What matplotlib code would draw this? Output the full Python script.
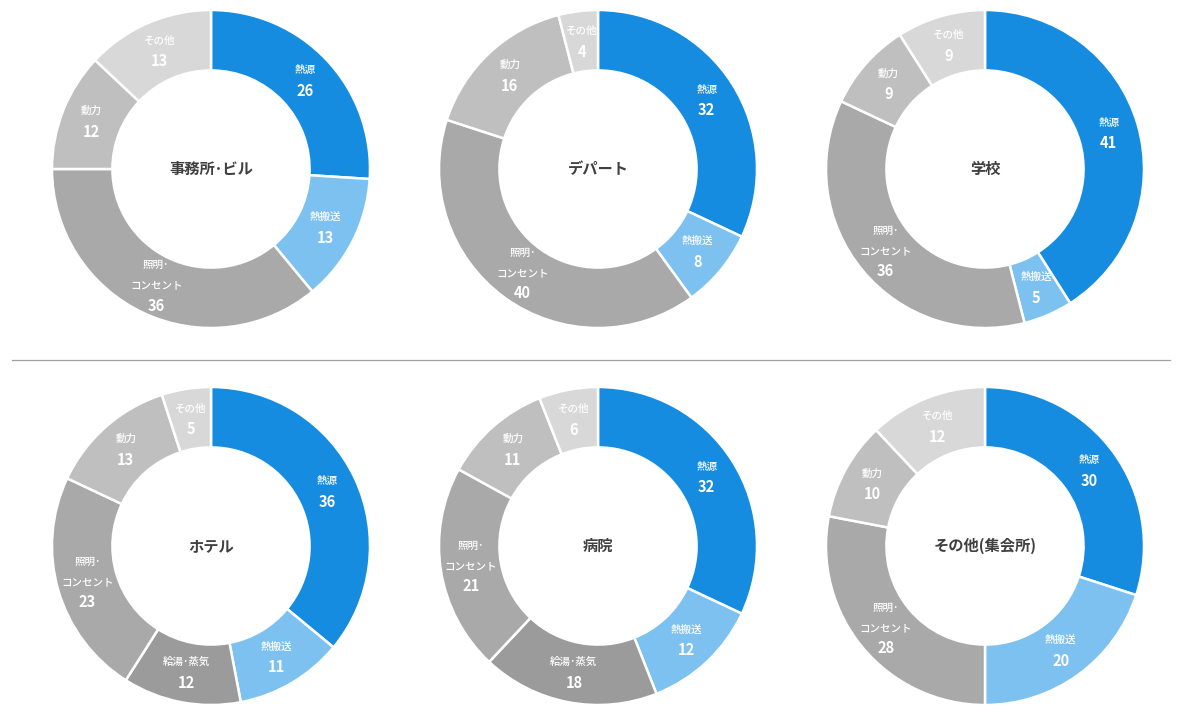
import matplotlib
matplotlib.use("Agg")
import matplotlib.pyplot as plt
import numpy as np

plt.rcParams['font.family'] = ['Noto Sans CJK JP', 'DejaVu Sans']

categories = ["熱源", "熱搬送", "給湯･蒸気", "照明･\nコンセント", "動力", "その他"]
colors = ["#158ce0", "#7dc1f1", "#9b9b9b", "#a9a9a9", "#bfbfbf", "#d8d8d8"]

facilities = ["事務所･ビル", "デパート", "学校", "ホテル", "病院", "その他(集会所)"]
office = [26, 13, 0, 36, 12, 13]
department = [32, 8, 0, 40, 16, 4]
school = [41, 5, 0, 36, 9, 9]
hotel = [36, 11, 12, 23, 13, 5]
hospital = [32, 12, 18, 21, 11, 6]
other = [30, 20, 0, 28, 10, 12]
all_values = [office, department, school, hotel, hospital, other]

W, H = 1180, 713
fig = plt.figure(figsize=(W / 100, H / 100), dpi=100)

centers = [(211, 169), (598, 169), (985, 169), (211, 546), (598, 546), (985, 546)]
R = 159
inner = 0.62

name_fs = 7.6
val_fs = 10.5

for (cx, cy), name, vals in zip(centers, facilities, all_values):
    ax = fig.add_axes([(cx - R) / W, 1 - (cy + R) / H, 2 * R / W, 2 * R / H])
    cats = [c for c, v in zip(categories, vals) if v > 0]
    cols = [col for col, v in zip(colors, vals) if v > 0]
    vs = [v for v in vals if v > 0]
    ax.pie(vs, colors=cols, startangle=90, counterclock=False, radius=1.0,
           wedgeprops=dict(width=1 - inner, edgecolor="white", linewidth=1.8))
    ax.set_xlim(-1, 1)
    ax.set_ylim(-1, 1)
    ax.set_aspect("equal")
    ax.axis("off")
    total = sum(vs)
    cum = 0
    rmid = (1 + inner) / 2
    for c, v in zip(cats, vs):
        mid = (cum + v / 2) / total * 2 * np.pi
        cum += v
        x = rmid * np.sin(mid)
        y = rmid * np.cos(mid)
        lines = c.split("\n")
        if len(lines) == 1:
            offs = [7.5]
            voff = -7.5
        else:
            offs = [14.5, 0]
            voff = -14.5
        for ln, o in zip(lines, offs):
            ax.annotate(ln, (x, y), xytext=(0, o), textcoords="offset points",
                        ha="center", va="center", color="white", fontsize=name_fs,
                        fontweight="medium")
        ax.annotate(str(v), (x, y), xytext=(0, voff), textcoords="offset points",
                    ha="center", va="center", color="white", fontsize=val_fs,
                    fontweight="bold")
    ax.text(0, 0, name, ha="center", va="center", fontsize=11,
            fontweight="bold", color="#404040")

# separator line
line_ax = fig.add_axes([0, 0, 1, 1], facecolor="none")
line_ax.set_xlim(0, W)
line_ax.set_ylim(H, 0)
line_ax.axis("off")
line_ax.plot([12, 1170], [360, 360], color="#a0a0a0", linewidth=0.9)

fig.savefig("out.png", dpi=100, facecolor="white")
